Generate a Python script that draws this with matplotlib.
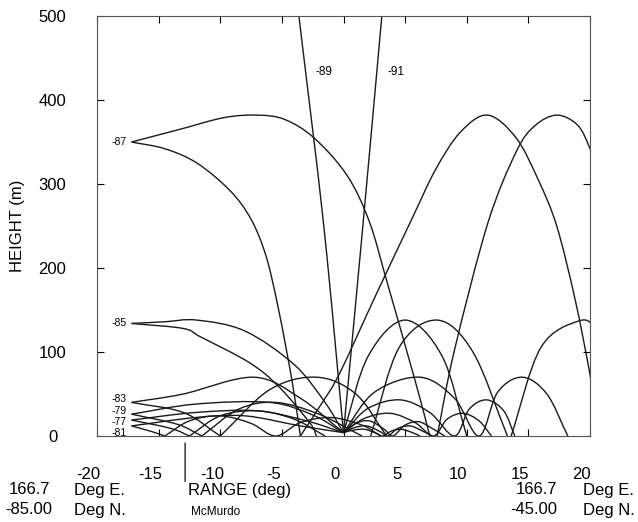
import numpy as np
import matplotlib.pyplot as plt
from matplotlib.path import Path
from matplotlib.patches import PathPatch
from matplotlib.transforms import ScaledTranslation

plt.rcParams['font.family'] = ['Liberation Sans', 'DejaVu Sans']
plt.rcParams['axes.unicode_minus'] = False

# ray paths, (range deg, height m)
ray89 = [(0.0, 4), (-1.6, 250), (-3.62, 500)]
ray91 = [(0.0, 4), (1.57, 250), (3.11, 500)]

ray87_up = [(-17.2, 350), (-13.3, 365), (-9.7, 379), (-7.0, 382), (-4.8, 377),
            (-2.4, 355), (0.3, 310), (2.1, 255), (3.5, 185), (5.0, 108),
            (6.2, 45), (7.0, 0)]
ray87_up2 = [(7.6, 0), (9.0, 102), (11.7, 253), (14.0, 338), (15.5, 369),
             (17.3, 382), (19.0, 370), (20.0, 342), (21.0, 300)]
ray87_lo = [(-17.2, 350), (-14.5, 342), (-11.9, 325), (-9.2, 292), (-7.5, 258),
            (-6.3, 215), (-5.4, 160), (-4.6, 100), (-4.0, 50), (-3.5, 0)]
ray87_lo2 = [(-3.5, 0), (-1.8, 38), (-0.3, 75), (2.6, 167), (5.5, 257),
             (7.5, 318), (9.5, 362), (11.7, 382), (14.0, 355), (15.8, 305),
             (17.3, 250), (18.8, 162), (20.0, 73), (20.4, 30)]

ray85_up = [(-17.2, 134), (-14.5, 136), (-11.9, 138), (-8.0, 125), (-4.0, 85),
            (-1.5, 40), (0.0, 4)]
ray85_lo = [(-17.2, 134), (-13.0, 128), (-11.6, 118), (-7.6, 87), (-5.2, 58),
            (-2.7, 15), (-2.2, 0)]
ray85_up2 = [(0.0, 4), (2.0, 95), (5.0, 138), (8.0, 95), (10.0, 0)]
ray85_lo2 = [(2.2, 0), (4.5, 105), (7.6, 138), (10.5, 100), (13.3, 0)]
ray85_lo3 = [(13.6, 0), (16.0, 105), (19.1, 137), (20.5, 128), (22.0, 95)]

ray83_up = [(-17.2, 40), (-13.0, 50), (-7.3, 70), (-3.5, 45), (0.0, 4)]
ray83_lo = [(-17.2, 40), (-13.0, 28), (-10.0, 0)]
ray83_lo2 = [(-10.0, 0), (-6.0, 55), (-2.2, 70), (1.0, 50), (3.5, 0)]

ray79_up = [(-17.2, 26), (-12.0, 38), (-6.0, 40), (-2.5, 25), (0.0, 4)]
ray79_lo = [(-17.2, 26), (-13.5, 14), (-11.5, 0)]
ray79_lo2 = [(-11.5, 0), (-8.5, 32), (-5.5, 40), (-2.0, 26), (1.5, 0)]
ray77_up = [(-17.2, 19), (-12.0, 28), (-7.0, 30), (-3.0, 18), (0.0, 4)]
ray77_lo = [(-17.2, 19), (-14.0, 9), (-12.5, 0)]
ray77_lo2 = [(-12.5, 0), (-10.0, 24), (-7.0, 30), (-4.0, 20), (-1.5, 0)]
ray81_up = [(-17.2, 12), (-12.0, 22), (-8.0, 24), (-3.5, 12), (0.0, 4)]
ray81_lo = [(-17.2, 12), (-15.5, 5), (-14.5, 0)]
ray81_lo2 = [(-14.5, 0), (-12.5, 18), (-10.0, 24), (-7.5, 15), (-5.5, 0),
             (-3.5, 16), (-1.0, 22), (1.5, 13), (3.0, 0)]

# hops leaving the source to the right, and the hops after them
hop70 = [(0.0, 4), (2.5, 52), (6.2, 70), (9.0, 45), (11.0, 0),
         (12.5, 52), (14.5, 70), (16.5, 50), (18.2, 0)]
hop43 = [(0.0, 4), (2.0, 33), (4.6, 43), (7.0, 28), (9.0, 0),
         (10.2, 32), (11.6, 43), (13.0, 30), (13.9, 0)]
hop27 = [(0.0, 4), (1.7, 21), (3.8, 27), (5.8, 16), (7.3, 0),
         (8.4, 20), (9.7, 27), (11.0, 18), (12.0, 0)]
fan_small = [
    [(0.0, 4), (1.0, 15), (2.1, 18), (3.3, 8), (4.0, 0),
     (5.0, 13), (6.1, 17), (7.2, 9), (8.2, 0)],
    [(0.0, 4), (0.9, 10), (1.9, 12), (3.0, 5), (3.6, 0),
     (4.4, 9), (5.4, 12), (6.4, 6), (7.2, 0)],
    [(0.0, 4), (0.8, 7), (1.7, 8), (2.7, 3), (3.2, 0),
     (3.9, 6), (4.7, 8), (5.6, 4), (6.2, 0)],
]

ray_paths = [ray89, ray91, ray87_up, ray87_up2, ray87_lo, ray87_lo2,
             ray85_up, ray85_lo, ray85_up2, ray85_lo2, ray85_lo3,
             ray83_up, ray83_lo, ray83_lo2,
             ray79_up, ray79_lo, ray79_lo2, ray77_up, ray77_lo, ray77_lo2,
             ray81_up, ray81_lo, ray81_lo2,
             hop70, hop43, hop27] + fan_small

# labels at the ray start points
label_text = ['-87', '-85', '-83', '-79', '-77', '-81']
label_h = [350, 134, 44, 30, 17, 4]
mid_labels = [('-89', -2.3, 433), ('-91', 3.6, 433)]

x_ticks = [-20, -15, -10, -5, 0, 5, 10, 15, 20]
y_ticks = [0, 100, 200, 300, 400, 500]
mcmurdo_x = -12.85


def smooth_path(pts):
    # Catmull-Rom through the points, written as cubic Bezier segments
    p = np.array(pts, dtype=float)
    if len(p) == 2:
        return Path(p)
    ext = np.vstack([2 * p[0] - p[1], p, 2 * p[-1] - p[-2]])
    verts = [p[0]]
    codes = [Path.MOVETO]
    for i in range(1, len(ext) - 2):
        c1 = ext[i] + (ext[i + 1] - ext[i - 1]) / 6
        c2 = ext[i + 1] - (ext[i + 2] - ext[i]) / 6
        verts += [c1, c2, ext[i + 1]]
        codes += [Path.CURVE4] * 3
    return Path(verts, codes)


fig = plt.figure(figsize=(6.38, 5.22), dpi=100)
ax = fig.add_axes([97 / 638, 86 / 522, 493 / 638, 420 / 522])

for pts in ray_paths:
    ax.add_patch(PathPatch(smooth_path(pts), fill=False, lw=1.0, ec='#1a1a1a'))

for txt, h in zip(label_text, label_h):
    ax.text(-17.6, h, txt, ha='right', va='center', fontsize=7.5)
for txt, x, h in mid_labels:
    ax.text(x, h, txt, ha='left', va='center', fontsize=8.5)

ax.set_xlim(-20, 20)
ax.set_ylim(0, 500)
ax.set_xticks(x_ticks)
ax.set_yticks(y_ticks)
ax.tick_params(direction='in', top=True, right=True, length=5, labelsize=12)
ax.tick_params(axis='x', pad=22)
ax.tick_params(axis='y', pad=22)
for lab in ax.get_xticklabels():
    lab.set_transform(lab.get_transform() + ScaledTranslation(-6 / 72, 0, fig.dpi_scale_trans))
for lab in ax.get_yticklabels():
    lab.set_horizontalalignment('center')
    lab.set_transform(lab.get_transform() + ScaledTranslation(-10 / 72, 0, fig.dpi_scale_trans))
for sp in ax.spines.values():
    sp.set_color('#555555')

fig.text(18 / 638, 1 - 226 / 522, 'HEIGHT (m)', rotation=90, ha='center', va='center', fontsize=12)
fig.text(240 / 638, 1 - 490 / 522, 'RANGE (deg)', ha='center', va='center', fontsize=12)

# end point coordinates of the section
fig.text(50 / 638, 1 - 490 / 522, '166.7', ha='right', va='center', fontsize=12)
fig.text(74 / 638, 1 - 490 / 522, 'Deg E.', ha='left', va='center', fontsize=12)
fig.text(52 / 638, 1 - 510 / 522, '-85.00', ha='right', va='center', fontsize=12)
fig.text(74 / 638, 1 - 510 / 522, 'Deg N.', ha='left', va='center', fontsize=12)
fig.text(557 / 638, 1 - 490 / 522, '166.7', ha='right', va='center', fontsize=12)
fig.text(583 / 638, 1 - 490 / 522, 'Deg E.', ha='left', va='center', fontsize=12)
fig.text(557 / 638, 1 - 510 / 522, '-45.00', ha='right', va='center', fontsize=12)
fig.text(583 / 638, 1 - 510 / 522, 'Deg N.', ha='left', va='center', fontsize=12)

# station marker below the axis
ax.annotate('', xy=(mcmurdo_x, -0.01), xycoords=('data', 'axes fraction'),
            xytext=(mcmurdo_x, -0.115), textcoords=('data', 'axes fraction'),
            arrowprops=dict(arrowstyle='-', color='#222222', lw=1.0))
ax.text(mcmurdo_x + 0.5, -0.18, 'McMurdo', transform=ax.get_xaxis_transform(),
        ha='left', va='center', fontsize=8.5)

fig.savefig('out.png', dpi=100)
